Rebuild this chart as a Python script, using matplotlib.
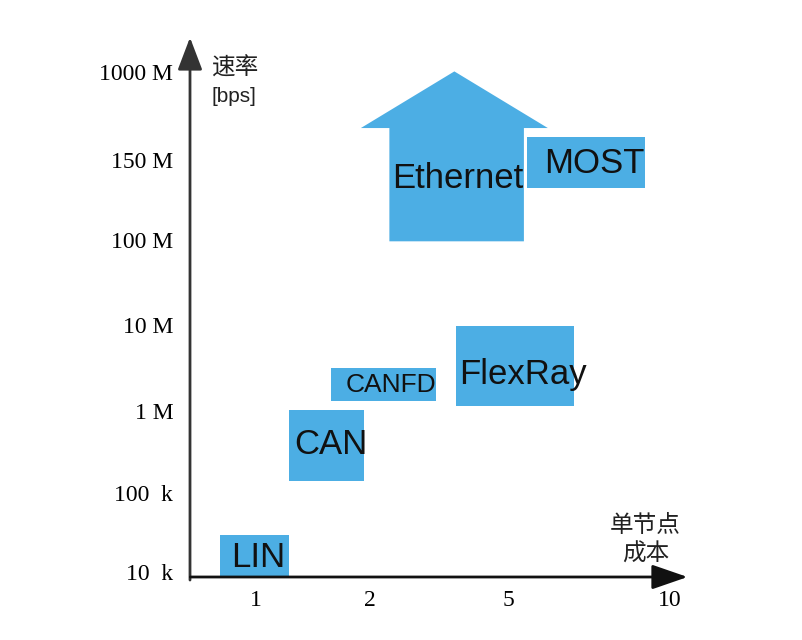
import matplotlib
matplotlib.use('Agg')
import matplotlib.pyplot as plt

# tick labels (categorical positions on each axis)
rate_labels = ['10  k', '100  k', '1 M', '10 M', '100 M', '150 M', '1000 M']
rate_ticks = [0, 0.95, 1.93, 2.97, 3.99, 4.95, 6.0]
cost_labels = ['1', '2', '5', '10']
cost_ticks = [1.0, 2.0, 3.21, 4.63]

# protocol boxes: cost range (x) and rate range (y), in axis units
protocols = ['LIN', 'CAN', 'CANFD', 'FlexRay', 'MOST']
cost_lo = [0.68, 1.29, 1.66, 2.75, 3.38]
cost_hi = [1.29, 1.95, 2.58, 3.79, 4.41]
rate_lo = [-0.06, 1.09, 2.05, 1.99, 4.61]
rate_hi = [0.44, 1.95, 2.45, 2.95, 5.22]
label_size = [25, 25, 19, 25, 25]
label_dx = [3, 3, 5, 6, 6]   # small nudges in points
label_dy = [-1, 1, 0, -6, -1]

# Ethernet drawn as an upward arrow (open-ended rate)
eth_cost = (2.17, 3.35)
eth_rate = (3.97, 5.33)
eth_head_cost = (1.92, 3.56)
eth_head_tip = 6.01

blue = '#4caee4'
txt = '#111111'

fig = plt.figure(figsize=(8.03, 6.40), dpi=100)
ax = fig.add_axes([190 / 803, 63 / 640, 500 / 803, 542 / 640])
ax.set_xlim(0.421, 4.807)
ax.set_ylim(-0.06, 6.447)
for s in ax.spines.values():
    s.set_visible(False)

ax.set_yticks(rate_ticks)
ax.set_yticklabels(rate_labels, family='Liberation Serif', fontsize=17)
ax.set_xticks(cost_ticks)
ax.set_xticklabels(cost_labels, family='Liberation Serif', fontsize=17)
ax.tick_params(axis='y', length=0, pad=12)
ax.tick_params(axis='x', length=0, pad=9)

# axes with arrow heads
ax.annotate('', xy=(0.421, 6.45), xytext=(0.421, -0.13),
            arrowprops=dict(arrowstyle='-|>,head_length=1.0,head_width=0.38',
                            color='#333333', lw=2, mutation_scale=20),
            annotation_clip=False)
ax.annotate('', xy=(4.81, -0.06), xytext=(0.40, -0.06),
            arrowprops=dict(arrowstyle='-|>,head_length=1.1,head_width=0.38',
                            color='#111111', lw=2, mutation_scale=20),
            annotation_clip=False)

for i, name in enumerate(protocols):
    ax.fill([cost_lo[i], cost_hi[i], cost_hi[i], cost_lo[i]],
            [rate_lo[i], rate_lo[i], rate_hi[i], rate_hi[i]],
            color=blue, lw=0, zorder=2)
    ax.annotate(name, ((cost_lo[i] + cost_hi[i]) / 2, (rate_lo[i] + rate_hi[i]) / 2),
                xytext=(label_dx[i], label_dy[i]), textcoords='offset points',
                ha='center', va='center', fontsize=label_size[i],
                family='Liberation Sans', color=txt, zorder=3)

x0, x1 = eth_cost
y0, y1 = eth_rate
hx0, hx1 = eth_head_cost
ax.fill([x0, x1, x1, hx1, (hx0 + hx1) / 2, hx0, x0, x0],
        [y0, y0, y1, y1, eth_head_tip, y1, y1, y0],
        color=blue, lw=0, zorder=2)
ax.text((x0 + x1) / 2 + 0.01, (y0 + y1) / 2 + 0.07, 'Ethernet', ha='center', va='center',
        fontsize=25, family='Liberation Sans', color=txt, zorder=3)

# axis titles
cjk = ['Noto Sans CJK SC', 'DejaVu Sans']
fig.text(235 / 803, 1 - 68 / 640, '速率', ha='center', va='center', fontsize=17,
         family=cjk, color='#222222')
fig.text(234 / 803, 1 - 97 / 640, '[bps]', ha='center', va='center', fontsize=15,
         family='Liberation Sans', color='#222222')
fig.text(645 / 803, 1 - 525 / 640, '单节点', ha='center', va='center', fontsize=17,
         family=cjk, color='#222222')
fig.text(646 / 803, 1 - 554 / 640, '成本', ha='center', va='center', fontsize=17,
         family=cjk, color='#222222')

fig.savefig('out.png', dpi=100)
